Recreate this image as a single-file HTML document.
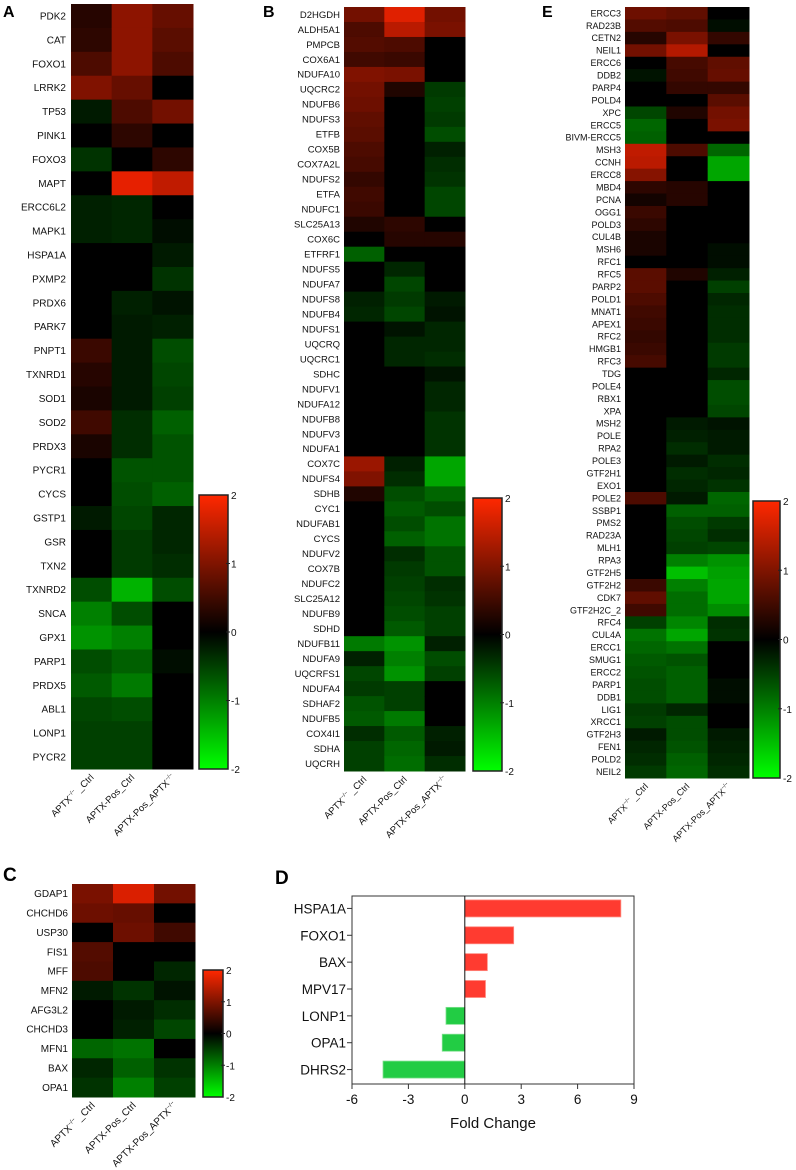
<!DOCTYPE html>
<html><head><meta charset="utf-8">
<style>
html,body{margin:0;padding:0;background:#fff;}
svg{display:block;font-family:"Liberation Sans",Arial,sans-serif;}
</style></head>
<body>
<svg id="fig" width="796" height="1170" viewBox="0 0 796 1170" xmlns="http://www.w3.org/2000/svg">
<defs>
<linearGradient id="cbgrad" x1="0" y1="0" x2="0" y2="1">
<stop offset="0" stop-color="rgb(255,40,0)"/>
<stop offset="0.5" stop-color="rgb(0,0,0)"/>
<stop offset="1" stop-color="rgb(0,255,0)"/>
</linearGradient>
</defs>
<text x="3" y="17" font-size="16" font-weight="bold">A</text>
<text x="263" y="17" font-size="16" font-weight="bold">B</text>
<text x="542" y="17" font-size="16" font-weight="bold">E</text>
<text x="3" y="881" font-size="19" font-weight="bold">C</text>
<text x="275" y="884" font-size="19" font-weight="bold">D</text>
</svg>
<script>
// ---------- Panel A data ----------
const aGenes=["PDK2","CAT","FOXO1","LRRK2","TP53","PINK1","FOXO3","MAPT","ERCC6L2","MAPK1","HSPA1A","PXMP2","PRDX6","PARK7","PNPT1","TXNRD1","SOD1","SOD2","PRDX3","PYCR1","CYCS","GSTP1","GSR","TXN2","TXNRD2","SNCA","GPX1","PARP1","PRDX5","ABL1","LONP1","PYCR2"];
const aKoCtrl=[0.3,0.35,0.6,1.0,-0.2,0,-0.4,0,-0.25,-0.25,0,0,0,0,0.45,0.3,0.2,0.5,0.2,0,0,-0.2,0,0,-0.6,-1.0,-1.15,-0.6,-0.7,-0.55,-0.5,-0.5];
const aPosCtrl=[1.1,1.1,1.1,0.8,0.6,0.35,0,1.8,-0.3,-0.3,0,0,-0.25,-0.2,-0.2,-0.2,-0.2,-0.35,-0.35,-0.65,-0.6,-0.55,-0.45,-0.45,-1.4,-0.6,-1.0,-0.75,-0.95,-0.6,-0.5,-0.5];
const aPosKo=[0.8,0.7,0.6,0,0.9,0,0.35,1.5,0,-0.1,-0.2,-0.4,-0.15,-0.25,-0.6,-0.55,-0.5,-0.75,-0.65,-0.65,-0.75,-0.3,-0.3,-0.35,-0.6,0,0,-0.1,0,0,0,0];
// ---------- Panel B data ----------
const bGenes=["D2HGDH","ALDH5A1","PMPCB","COX6A1","NDUFA10","UQCRC2","NDUFB6","NDUFS3","ETFB","COX5B","COX7A2L","NDUFS2","ETFA","NDUFC1","SLC25A13","COX6C","ETFRF1","NDUFS5","NDUFA7","NDUFS8","NDUFB4","NDUFS1","UQCRQ","UQCRC1","SDHC","NDUFV1","NDUFA12","NDUFB8","NDUFV3","NDUFA1","COX7C","NDUFS4","SDHB","CYC1","NDUFAB1","CYCS","NDUFV2","COX7B","NDUFC2","SLC25A12","NDUFB9","SDHD","NDUFB11","NDUFA9","UQCRFS1","NDUFA4","SDHAF2","NDUFB5","COX4I1","SDHA","UQCRH"];
const bKoCtrl=[0.9,0.6,0.65,0.5,1.0,0.9,0.85,0.75,0.7,0.6,0.55,0.4,0.5,0.45,0.25,0,-0.75,0,0,-0.25,-0.3,0,0,0,0,0,0,0,0,0,1.2,1.0,0.25,0,0,0,0,0,0,0,0,0,-0.95,-0.25,-0.55,-0.45,-0.65,-0.7,-0.35,-0.5,-0.5];
const bPosCtrl=[1.75,1.45,0.6,0.45,0.95,0.25,0,0,0,0,0,0,0,0,0.35,0.3,0,-0.3,-0.55,-0.45,-0.55,-0.15,-0.3,-0.3,0,0,0,0,0,0,-0.25,-0.35,-0.6,-0.7,-0.6,-0.75,-0.35,-0.45,-0.5,-0.55,-0.6,-0.7,-1.15,-1.0,-1.15,-0.5,-0.5,-0.95,-0.7,-0.8,-0.85];
const bPosKo=[0.9,0.95,0,0,0,-0.45,-0.5,-0.45,-0.6,-0.25,-0.35,-0.4,-0.55,-0.55,0,0.3,0,0,0,-0.2,-0.15,-0.3,-0.3,-0.35,-0.15,-0.3,-0.3,-0.4,-0.4,-0.4,-1.3,-1.3,-0.8,-0.6,-0.9,-0.9,-0.65,-0.65,-0.35,-0.4,-0.5,-0.5,-0.25,-0.6,-0.5,0,0,0,-0.25,-0.2,-0.35];
// ---------- Panel E data ----------
const eGenes=["ERCC3","RAD23B","CETN2","NEIL1","ERCC6","DDB2","PARP4","POLD4","XPC","ERCC5","BIVM-ERCC5","MSH3","CCNH","ERCC8","MBD4","PCNA","OGG1","POLD3","CUL4B","MSH6","RFC1","RFC5","PARP2","POLD1","MNAT1","APEX1","RFC2","HMGB1","RFC3","TDG","POLE4","RBX1","XPA","MSH2","POLE","RPA2","POLE3","GTF2H1","EXO1","POLE2","SSBP1","PMS2","RAD23A","MLH1","RPA3","GTF2H5","GTF2H2","CDK7","GTF2H2C_2","RFC4","CUL4A","ERCC1","SMUG1","ERCC2","PARP1","DDB1","LIG1","XRCC1","GTF2H3","FEN1","POLD2","NEIL2"];
const eKoCtrl=[0.85,0.65,0.3,0.9,0,-0.15,0,0,-0.55,-0.8,-0.75,1.5,1.45,1.05,0.35,0.15,0.45,0.35,0.2,0.2,0,0.7,0.7,0.6,0.5,0.45,0.4,0.45,0.55,0,0,0,0,0,0,0,0,0,0,0.6,0,0,0,0,0,0,0.45,0.75,0.5,-0.5,-0.9,-0.8,-0.7,-0.65,-0.6,-0.6,-0.45,-0.5,-0.2,-0.3,-0.35,-0.45];
const ePosCtrl=[0.75,0.6,0.95,1.4,0.55,0.5,0.4,0,0.25,0,0,0.6,0,0,0.3,0.3,0,0,0,0,0,0.25,0,0,0,0,0,0,0,0,0,0,0,-0.2,-0.25,-0.35,-0.2,-0.35,-0.3,-0.2,-0.75,-0.6,-0.55,-0.5,-1.0,-1.5,-1.0,-0.85,-0.85,-1.05,-1.3,-0.9,-0.65,-0.75,-0.75,-0.75,-0.3,-0.6,-0.6,-0.65,-0.75,-0.8];
const ePosKo=[0,-0.1,0.4,0,0.75,0.8,0.4,0.7,0.9,0.95,0,-0.8,-1.3,-1.3,0,0,0,0,0,-0.1,-0.1,-0.25,-0.5,-0.3,-0.35,-0.35,-0.35,-0.45,-0.45,-0.3,-0.6,-0.6,-0.55,-0.15,-0.2,-0.2,-0.35,-0.3,-0.4,-0.8,-0.75,-0.45,-0.35,-0.55,-1.15,-1.25,-1.3,-1.3,-1.1,-0.35,-0.4,0,0,0,-0.1,-0.1,0,0,-0.2,-0.25,-0.3,-0.35];
// ---------- Panel C data ----------
const cGenes=["GDAP1","CHCHD6","USP30","FIS1","MFF","MFN2","AFG3L2","CHCHD3","MFN1","BAX","OPA1"];
const cKoCtrl=[0.95,0.85,0,0.65,0.6,-0.2,0,0,-0.8,-0.3,-0.4];
const cPosCtrl=[1.7,0.8,0.85,0,0,-0.4,-0.2,-0.25,-0.9,-0.75,-1.0];
const cPosKo=[0.9,0,0.5,0,-0.3,-0.15,-0.35,-0.55,0,-0.4,-0.5];
// ---------- Panel D data ----------
const dCategories=["HSPA1A","FOXO1","BAX","MPV17","LONP1","OPA1","DHRS2"];
const dFoldChange=[8.3,2.6,1.2,1.1,-1.0,-1.2,-4.35];
const dTicks=[-6,-3,0,3,6,9];

const NS="http://www.w3.org/2000/svg";
const svg=document.getElementById('fig');
function mk(tag,attrs,parent){const e=document.createElementNS(NS,tag);for(const k in attrs)e.setAttribute(k,attrs[k]);(parent||svg).appendChild(e);return e;}
function color(v){
  if(v>=0){const r=Math.min(255,Math.round(128*v));const g=Math.min(40,Math.round(18*v));return `rgb(${r},${g},0)`;}
  const g=Math.min(255,Math.round(128*-v));return `rgb(0,${g},0)`;
}
function heatmap(p){
  const g=mk('g',{});
  
  
  const n=p.genes.length, rh=(p.y1-p.y0)/n, cw=(p.x1-p.x0)/3;
  const cols=[p.c1,p.c2,p.c3];
  for(let c=0;c<3;c++){
    for(let r=0;r<n;r++){
      const cell=mk('rect',{x:p.x0+c*cw,y:p.y0+r*rh,width:cw+0.5,height:rh+0.5,fill:color(cols[c][r])},g);
      
      
    }
  }
  for(let r=0;r<n;r++){
    const t=mk('text',{x:p.labelX,y:p.y0+(r+0.5)*rh+p.fs*0.35,'text-anchor':'end','font-size':p.fs,fill:'#111'},g);
    t.textContent=p.genes[r];
    
    
  }
  const labs=[["APTX","−/−"," _Ctrl"],["APTX-Pos_Ctrl","",""],["APTX-Pos_APTX","−/−",""]];
  for(let c=0;c<3;c++){
    const cx=p.x0+(c+0.5)*cw+3, cy=p.y1+9;
    const t=mk('text',{x:cx,y:cy,'text-anchor':'end','font-size':p.cfs,fill:'#111',transform:`rotate(-45 ${cx} ${cy})`},g);
    
    
    const a=mk('tspan',{},t);a.textContent=labs[c][0];
    if(labs[c][1]){const s=mk('tspan',{'font-size':p.cfs*0.6,dy:-4},t);s.textContent=labs[c][1];}
    if(labs[c][2]){const s=mk('tspan',{dy:labs[c][1]?4:0},t);s.textContent=labs[c][2];}
  }
  // colorbar
  const cb=mk('g',{});
  
  
  mk('rect',{x:p.cbx0,y:p.cby0,width:p.cbx1-p.cbx0,height:p.cby1-p.cby0,fill:'url(#cbgrad)',stroke:'#222','stroke-width':1.5},cb);
  const tv=[2,1,0,-1,-2];
  tv.forEach((v,i)=>{
    const y=p.cby0+(p.cby1-p.cby0)*i/4;
    if(i>0&&i<4) mk('line',{x1:p.cbx1-2,x2:p.cbx1+2,y1:y,y2:y,stroke:'#222','stroke-width':1},cb);
    const t=mk('text',{x:p.cbx1+3,y:y+4,'font-size':10,fill:'#111'},cb);
    t.textContent=String(v);
    
    
  });
}
heatmap({name:'heatmap-a',genes:aGenes,c1:aKoCtrl,c2:aPosCtrl,c3:aPosKo,x0:71,x1:193,y0:4,y1:769,labelX:66,fs:10,cfs:9.5,cbx0:199,cbx1:228,cby0:495,cby1:769});
heatmap({name:'heatmap-b',genes:bGenes,c1:bKoCtrl,c2:bPosCtrl,c3:bPosKo,x0:344,x1:465,y0:7,y1:771,labelX:340,fs:9.5,cfs:9.5,cbx0:473,cbx1:502,cby0:498,cby1:771});
heatmap({name:'heatmap-e',genes:eGenes,c1:eKoCtrl,c2:ePosCtrl,c3:ePosKo,x0:625,x1:749,y0:7,y1:778,labelX:621,fs:9,cfs:9,cbx0:753,cbx1:780,cby0:501,cby1:778});
heatmap({name:'heatmap-c',genes:cGenes,c1:cKoCtrl,c2:cPosCtrl,c3:cPosKo,x0:72,x1:195,y0:884,y1:1097,labelX:68,fs:10,cfs:10,cbx0:203,cbx1:223,cby0:970,cby1:1097});

// ---------- Panel D bar chart ----------
const PX0=352,PX1=634,PY0=896,PY1=1084,XMIN=-6,XMAX=9;
function xs(v){return PX0+(v-XMIN)/(XMAX-XMIN)*(PX1-PX0);}
const step=(PY1-PY0)/dCategories.length;
function ys(i){return PY0+step*(i+0.5)-1;}
const dg=mk('g',{});


const frame=mk('rect',{x:PX0,y:PY0,width:PX1-PX0,height:PY1-PY0,fill:'none',stroke:'#333','stroke-width':1},dg);


dCategories.forEach((c,i)=>{
  const v=dFoldChange[i];
  const x0=xs(Math.min(0,v)), x1=xs(Math.max(0,v));
  const b=mk('rect',{x:x0,y:ys(i)-8.5,width:x1-x0,height:17,fill:v>=0?'#ff3b30':'#22cc44',stroke:v>=0?'#ff8a80':'#7ee08e','stroke-width':0.8},dg);
  
  
  mk('line',{x1:PX0-5,x2:PX0,y1:ys(i),y2:ys(i),stroke:'#333','stroke-width':1},dg);
  const t=mk('text',{x:PX0-6,y:ys(i)+5,'text-anchor':'end','font-size':13.5,fill:'#111'},dg);
  t.textContent=c;
  
  
});
const zl=mk('line',{x1:xs(0),x2:xs(0),y1:PY0,y2:PY1,stroke:'#111','stroke-width':1},dg);


dTicks.forEach(v=>{
  mk('line',{x1:xs(v),x2:xs(v),y1:PY1,y2:PY1+5,stroke:'#333','stroke-width':1},dg);
  const t=mk('text',{x:xs(v),y:PY1+20,'text-anchor':'middle','font-size':13.5,fill:'#111'},dg);
  t.textContent=String(v);
  
  
});
const xt=mk('text',{x:xs(1.5),y:1128,'text-anchor':'middle','font-size':15,fill:'#111'},dg);
xt.textContent='Fold Change';


</script>
</body></html>
